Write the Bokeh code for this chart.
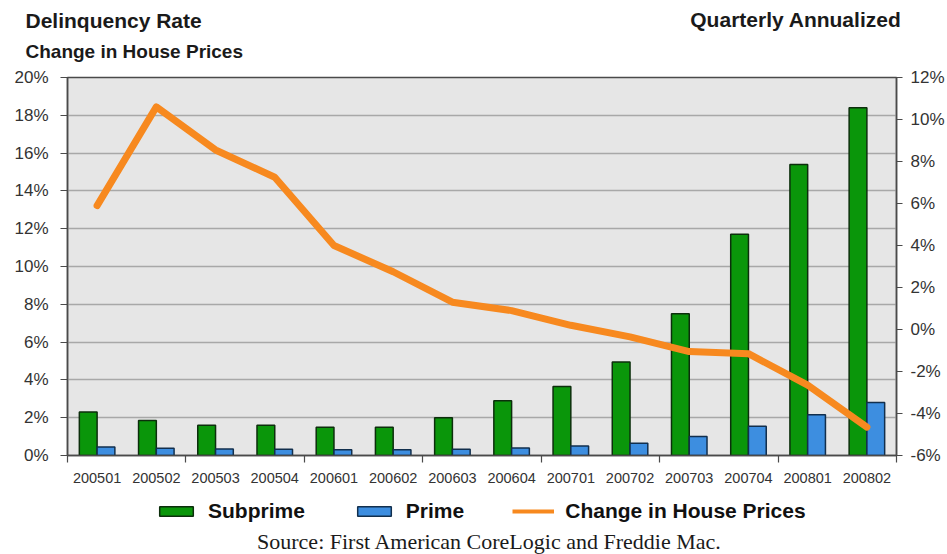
from bokeh.plotting import figure
from bokeh.layouts import column
from bokeh.models import (Range1d, LinearAxis, FixedTicker, NumeralTickFormatter,
                          Legend, LegendItem, Title, Label, ColumnDataSource)
from bokeh.transform import dodge
from bokeh.embed import file_html
from bokeh.resources import INLINE

quarters = ["200501", "200502", "200503", "200504", "200601", "200602", "200603",
            "200604", "200701", "200702", "200703", "200704", "200801", "200802"]
subprime = [2.3, 1.85, 1.6, 1.6, 1.5, 1.5, 2.0, 2.9, 3.65, 4.95, 7.5, 11.7, 15.4, 18.4]
prime = [0.45, 0.38, 0.35, 0.33, 0.3, 0.3, 0.33, 0.4, 0.5, 0.65, 1.0, 1.55, 2.15, 2.8]
house_prices = [5.9, 10.6, 8.55, 7.25, 4.0, 2.75, 1.3, 0.9, 0.2, -0.35, -1.05, -1.15, -2.65, -4.65]

left_ticks = [0, 0.02, 0.04, 0.06, 0.08, 0.10, 0.12, 0.14, 0.16, 0.18, 0.20]
right_ticks = [-0.06, -0.04, -0.02, 0, 0.02, 0.04, 0.06, 0.08, 0.10, 0.12]

FONT = "Liberation Sans"
GREEN, GREEN_EDGE = "#0a960a", "#0c2e0c"
BLUE, BLUE_EDGE = "#3d8ee0", "#122f4d"
ORANGE = "#f7891f"

idx = list(range(len(quarters)))
src = ColumnDataSource(dict(
    x=idx,
    sub=[v / 100 for v in subprime],
    prime=[v / 100 for v in prime],
    hp=[v / 100 for v in house_prices],
))

# ---------------- main chart ----------------
p = figure(width=947, height=490, output_backend="svg", toolbar_location=None,
           x_range=Range1d(-0.5, len(quarters) - 0.5), y_range=Range1d(0, 0.20),
           min_border_left=67, min_border_right=49, min_border_top=77, min_border_bottom=35,
           background_fill_color="#e6e6e6", border_fill_color="white",
           outline_line_color="#4a4a4a", outline_line_width=1.5)
p.extra_y_ranges = {"hp": Range1d(-0.06, 0.12)}

p.yaxis.ticker = FixedTicker(ticks=left_ticks)
p.yaxis.formatter = NumeralTickFormatter(format="0%")
ax_r = LinearAxis(y_range_name="hp", ticker=FixedTicker(ticks=right_ticks),
                  formatter=NumeralTickFormatter(format="0%"))
p.add_layout(ax_r, "right")

for ax in (p.yaxis[0], ax_r):
    ax.major_tick_out = 7
    ax.major_tick_in = 0
    ax.minor_tick_line_color = None
    ax.axis_line_color = "#4a4a4a"
    ax.axis_line_width = 1.5
    ax.major_tick_line_color = "#4a4a4a"
    ax.major_tick_line_width = 1.2
    ax.major_label_text_font = FONT
    ax.major_label_text_font_size = "17px"
    ax.major_label_text_color = "#333333"
p.yaxis[0].major_label_standoff = 12
ax_r.major_tick_out = 6
ax_r.major_label_standoff = 8

xa = p.xaxis[0]
xa.ticker = FixedTicker(ticks=idx, minor_ticks=[-0.5 + 2 * k for k in range(8)])
xa.major_label_overrides = {i: q for i, q in zip(idx, quarters)}
xa.major_tick_line_color = None
xa.major_tick_out = 0
xa.major_tick_in = 0
xa.minor_tick_out = 7
xa.minor_tick_in = 0
xa.minor_tick_line_color = "#4a4a4a"
xa.minor_tick_line_width = 1.2
xa.axis_line_color = "#4a4a4a"
xa.axis_line_width = 1.5
xa.major_label_text_font = FONT
xa.major_label_text_font_size = "14.5px"
xa.major_label_text_color = "#333333"
xa.major_label_standoff = 10

p.xgrid.grid_line_color = None
p.ygrid.ticker = FixedTicker(ticks=left_ticks)
p.ygrid.grid_line_color = "#a8a8a8"
p.ygrid.grid_line_width = 1.5

bar_sub = dict(fill_color=GREEN, line_color=GREEN_EDGE, line_width=1.5)
bar_prime = dict(fill_color=BLUE, line_color=BLUE_EDGE, line_width=1.5)

p.vbar(x=dodge("x", -0.15), top="sub", width=0.3, source=src, **bar_sub)
p.vbar(x=dodge("x", 0.15), top="prime", width=0.3, source=src, **bar_prime)
p.line(x="x", y="hp", y_range_name="hp", source=src,
       line_color=ORANGE, line_width=7, line_join="round", line_cap="round")


def title(text, size, align, offset, standoff, valign="bottom", font=FONT, style="bold"):
    return Title(text=text, align=align, offset=offset, standoff=standoff,
                 vertical_align=valign, text_font=font, text_font_style=style,
                 text_font_size=size, text_color="#1a1a1a")


# header rows, stacked outward from the frame
p.add_layout(title("Change in House Prices", "19px", "left", -42, 32), "above")
p.add_layout(title("Delinquency Rate", "21px", "left", -42, -19), "above")
p.add_layout(title("Quarterly Annualized", "21px", "right", -5, -29), "above")

# ---------------- footer: legend and source ----------------
foot = figure(width=947, height=64, output_backend="svg", toolbar_location=None,
              x_axis_location=None, y_axis_location=None,
              x_range=Range1d(-0.5, len(quarters) - 0.5), y_range=Range1d(-2, -1),
              min_border=0, outline_line_color=None,
              background_fill_color="white", border_fill_color="white")
foot.grid.visible = False
# same series, hidden in the footer: used only as legend keys
k_sub = foot.vbar(x=dodge("x", -0.15), top="sub", width=0.3, source=src, **bar_sub)
k_prime = foot.vbar(x=dodge("x", 0.15), top="prime", width=0.3, source=src, **bar_prime)
k_hp = foot.line(x="x", y="hp", source=src, line_color=ORANGE, line_width=4)
for r in (k_sub, k_prime, k_hp):
    r.visible = False

legend = Legend(items=[LegendItem(label="Subprime", renderers=[k_sub]),
                       LegendItem(label="Prime", renderers=[k_prime]),
                       LegendItem(label="Change in House Prices", renderers=[k_hp])],
                location=(88, 31), orientation="horizontal",
                glyph_width=42, glyph_height=12, label_standoff=11, spacing=48,
                padding=0, margin=0, click_policy="none",
                label_text_font=FONT, label_text_font_style="bold",
                label_text_font_size="21px", label_text_color="#111111",
                background_fill_alpha=0, border_line_color=None)
foot.add_layout(legend, "center")
foot.add_layout(Label(x=422, y=13, x_units="screen", y_units="screen",
                      text="Source: First American CoreLogic and Freddie Mac.",
                      text_font="Liberation Serif", text_font_size="22px",
                      text_align="center", text_baseline="alphabetic",
                      text_color="#1a1a1a"))

layout = column(p, foot, spacing=0)
open("out.html", "w").write(file_html(layout, INLINE))
